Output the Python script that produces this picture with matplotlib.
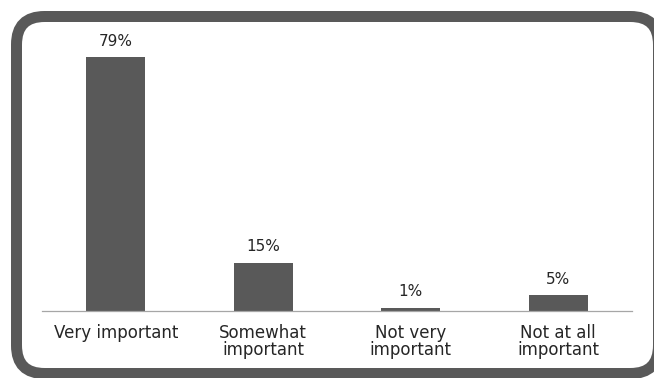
import matplotlib
matplotlib.use('Agg')
import matplotlib.pyplot as plt
from matplotlib.patches import FancyBboxPatch

# survey answers
categories = ['Very important', 'Somewhat\nimportant', 'Not very\nimportant', 'Not at all\nimportant']
values = [79, 15, 1, 5]

bar_color = '#595959'
text_color = '#262626'

W, H = 654, 378
fig = plt.figure(figsize=(W / 100, H / 100), dpi=100)
fig.patch.set_facecolor('white')

# background axes in pixel units for the rounded frame
bg = fig.add_axes([0, 0, 1, 1], zorder=0)
bg.set_xlim(0, W)
bg.set_ylim(0, H)
bg.axis('off')
frame = FancyBboxPatch((16.5, 4.5), 642, 357,
                       boxstyle='round,pad=0,rounding_size=28',
                       facecolor='white', edgecolor='#595959',
                       linewidth=11 * 0.72)
bg.add_patch(frame)

# chart axes
ymax = 85
ax = fig.add_axes([42 / W, 67 / H, 590 / W, 273 / H], zorder=1)
ax.patch.set_alpha(0)
x = range(len(categories))
bars = ax.bar(x, values, width=0.4, color=bar_color)
ax.set_xlim(-0.5, len(categories) - 0.5)
ax.set_ylim(0, ymax)

for rect, v in zip(bars, values):
    ax.annotate(f'{v}%', xy=(rect.get_x() + rect.get_width() / 2, rect.get_height()),
                xytext=(0, 6), textcoords='offset points',
                ha='center', va='bottom', fontsize=11, color=text_color)

ax.set_xticks(list(x))
ax.set_xticklabels(categories, fontsize=12, color=text_color, linespacing=0.95)
ax.tick_params(axis='x', length=0, pad=9)
ax.set_yticks([])
for s in ['top', 'right', 'left']:
    ax.spines[s].set_visible(False)
ax.spines['bottom'].set_color('#a6a6a6')
ax.spines['bottom'].set_linewidth(0.9)

fig.savefig('out.png', dpi=100)
